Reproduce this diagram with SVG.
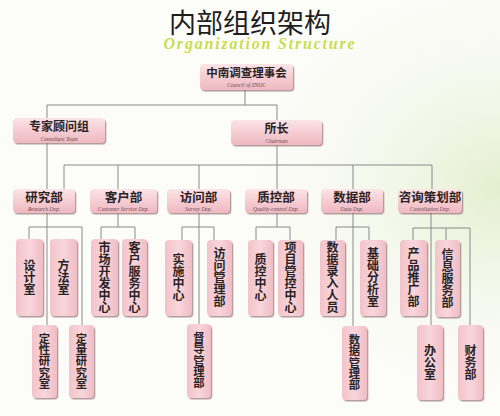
<svg xmlns="http://www.w3.org/2000/svg" width="500" height="416" viewBox="0 0 500 416">
<defs>
<linearGradient id="bx" x1="0" y1="0" x2="0" y2="1">
<stop offset="0" stop-color="#fbe4e7"/>
<stop offset="0.5" stop-color="#f6cdd3"/>
<stop offset="1" stop-color="#efb9c1"/>
</linearGradient>
<linearGradient id="bxv" x1="0" y1="0" x2="1" y2="0">
<stop offset="0" stop-color="#f3c3ca"/>
<stop offset="0.5" stop-color="#f8d6db"/>
<stop offset="1" stop-color="#f0bcc4"/>
</linearGradient>
<radialGradient id="bg" cx="1" cy="0.45" r="0.55">
<stop offset="0" stop-color="#e3efcf"/>
<stop offset="1" stop-color="#fbfcf7" stop-opacity="0"/>
</radialGradient>
<filter id="sd" x="-20%" y="-20%" width="150%" height="150%">
<feDropShadow dx="1.3" dy="1.5" stdDeviation="0.7" flood-color="#8d6a70" flood-opacity="0.65"/>
</filter>
<style>
.box{fill:url(#bx);filter:url(#sd)}
.vbox{fill:url(#bxv);filter:url(#sd)}
.ln{fill:none;stroke:#8a8a8a;stroke-width:1}
.cn{font-family:"Noto Sans CJK SC","Noto Sans",sans-serif;font-weight:bold;fill:#2a2326;text-anchor:middle}
.en{font-family:"Liberation Serif",serif;font-style:italic;fill:#6a4a50;text-anchor:middle;font-size:5.5px}
.vt{font-family:"Noto Sans CJK SC",sans-serif;font-weight:bold;fill:#2a2326;text-anchor:middle;writing-mode:vertical-rl;font-size:12px}
.vs{font-size:11.3px}
</style>
</defs>
<rect width="500" height="416" fill="#fcfcf8"/>
<rect width="500" height="416" fill="url(#bg)"/>
<g id="title">
<text x="250" y="33" font-family="Noto Sans CJK SC,sans-serif" font-size="27" fill="#1e1e1e" text-anchor="middle">内部组织架构</text>
<text x="260" y="49" font-family="Liberation Serif,serif" font-style="italic" font-weight="bold" font-size="16" fill="#c9dc4e" text-anchor="middle" letter-spacing="1.8">Organization Structure</text>
</g>
<g id="connectors">
<path class="ln" d="M245,89V105M47,105H277M47,105V118M277,105V120"/>
<path class="ln" d="M47,143V189M277,145V165M64,165H432M64,165V189M118,165V189M199,165V189M277,165V189M353,165V189M432,165V189"/>
<path class="ln" d="M47,213V325M29,227H82M29,227V239M82,227V325"/>
<path class="ln" d="M118,213V227M101,227H135M101,227V239M135,227V239"/>
<path class="ln" d="M199,213V324M182,227H214M182,227V240M214,227V240"/>
<path class="ln" d="M277,213V227M256,227H290M256,227V240M290,227V240"/>
<path class="ln" d="M353,213V326M336,227H369M336,227V240M369,227V240"/>
<path class="ln" d="M431,213V325M413,228H470M413,228V240M446,228V240M470,228V325"/>
</g>
<g id="council"><rect class="box" x="200" y="64" width="93" height="26" rx="4"/><text class="cn" x="246.5" y="77" font-size="11.5">中南调查理事会</text><text class="en" x="246.5" y="86.5">Council of ZNDC</text></g>
<g id="consultant"><rect class="box" x="13" y="118" width="92" height="25" rx="4"/><text class="cn" x="59" y="131" font-size="12">专家顾问组</text><text class="en" x="59" y="140.5">Consultant Team</text></g>
<g id="chairman"><rect class="box" x="231" y="120" width="91" height="25" rx="4"/><text class="cn" x="276.5" y="133" font-size="12">所长</text><text class="en" x="276.5" y="142.5">Chairman</text></g>
<g id="research"><rect class="box" x="13" y="189" width="62" height="24" rx="4"/><text class="cn" x="44" y="201.5" font-size="12.5">研究部</text><text class="en" x="44" y="210.5">Research Dep.</text></g>
<g id="customer"><rect class="box" x="90" y="189" width="67" height="24" rx="4"/><text class="cn" x="123.5" y="201.5" font-size="12.5">客户部</text><text class="en" x="123.5" y="210.5">Customer Service Dep.</text></g>
<g id="survey"><rect class="box" x="167" y="189" width="63" height="24" rx="4"/><text class="cn" x="198.5" y="201.5" font-size="12.5">访问部</text><text class="en" x="198.5" y="210.5">Survey Dep.</text></g>
<g id="quality"><rect class="box" x="245" y="189" width="62" height="24" rx="4"/><text class="cn" x="276" y="201.5" font-size="12.5">质控部</text><text class="en" x="276" y="210.5">Quality-control Dep.</text></g>
<g id="data"><rect class="box" x="321" y="189" width="62" height="24" rx="4"/><text class="cn" x="352" y="201.5" font-size="12.5">数据部</text><text class="en" x="352" y="210.5">Data Dep.</text></g>
<g id="consult"><rect class="box" x="398" y="189" width="64" height="24" rx="4"/><text class="cn" x="430" y="201.5" font-size="12.5">咨询策划部</text><text class="en" x="430" y="210.5">Consultation Dep.</text></g>
<g id="design"><rect class="vbox" x="16" y="239" width="27" height="77" rx="4"/><text class="vt" x="29.5" y="277">设计室</text></g>
<g id="method"><rect class="vbox" x="50" y="239" width="27" height="77" rx="4"/><text class="vt" x="63.5" y="277">方法室</text></g>
<g id="qualitative"><rect class="vbox" x="32" y="325" width="25" height="73" rx="4"/><text class="vt vs" x="44.5" y="361">定性研究室</text></g>
<g id="quantitative"><rect class="vbox" x="69" y="325" width="25" height="73" rx="4"/><text class="vt vs" x="81.5" y="361">定量研究室</text></g>
<g id="market"><rect class="vbox" x="91" y="239" width="27" height="77" rx="4"/><text class="vt" x="104.5" y="277">市场开发中心</text></g>
<g id="service"><rect class="vbox" x="122" y="239" width="25" height="77" rx="4"/><text class="vt" x="134.5" y="277">客户服务中心</text></g>
<g id="implement"><rect class="vbox" x="165" y="240" width="27" height="76" rx="4"/><text class="vt" x="178.5" y="277.5">实施中心</text></g>
<g id="visitmgmt"><rect class="vbox" x="207" y="240" width="25" height="76" rx="4"/><text class="vt" x="219.5" y="277.5">访问管理部</text></g>
<g id="supervise"><rect class="vbox" x="187" y="324" width="24" height="74" rx="4"/><text class="vt vs" x="199" y="360.5">督导管理部</text></g>
<g id="qccenter"><rect class="vbox" x="248" y="240" width="25" height="76" rx="4"/><text class="vt" x="260.5" y="277.5">质控中心</text></g>
<g id="project"><rect class="vbox" x="278" y="240" width="25" height="76" rx="4"/><text class="vt" x="290.5" y="277.5">项目管控中心</text></g>
<g id="entry"><rect class="vbox" x="320" y="240" width="25" height="76" rx="4"/><text class="vt" x="332.5" y="277.5">数据录入人员</text></g>
<g id="analysis"><rect class="vbox" x="360" y="240" width="26" height="76" rx="4"/><text class="vt" x="373" y="277.5">基础分析室</text></g>
<g id="datamgmt"><rect class="vbox" x="342" y="326" width="25" height="74" rx="4"/><text class="vt vs" x="354.5" y="362.5">数据管理部</text></g>
<g id="promo"><rect class="vbox" x="400" y="240" width="27" height="76" rx="4"/><text class="vt" x="413.5" y="277.5">产品推广部</text></g>
<g id="info"><rect class="vbox" x="435" y="240" width="25" height="77" rx="4"/><text class="vt" x="447.5" y="278">信息服务部</text></g>
<g id="office"><rect class="vbox" x="417" y="325" width="26" height="75" rx="4"/><text class="vt" x="430" y="362">办公室</text></g>
<g id="finance"><rect class="vbox" x="458" y="325" width="25" height="75" rx="4"/><text class="vt" x="470.5" y="362">财务部</text></g>
</svg>
